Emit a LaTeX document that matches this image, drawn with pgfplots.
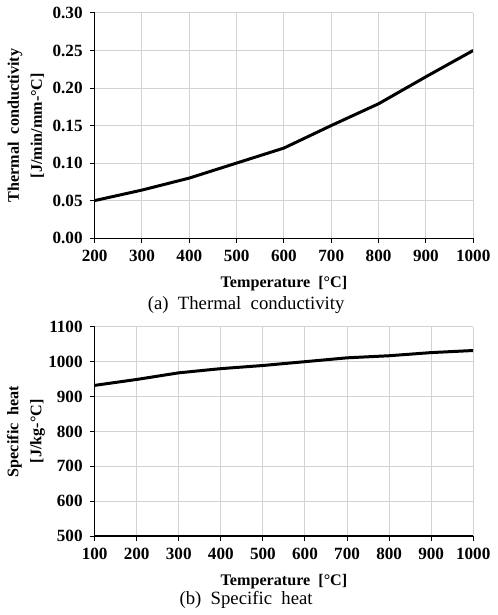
\documentclass[border=0pt]{standalone}
\usepackage{pgfplots}
\pgfplotsset{compat=1.18}
\usepackage{fontspec}
\setmainfont{Liberation Serif}

\pgfplotsset{
  excelstyle/.style={
    scale only axis,
    width=190pt,
    axis lines=left,
    axis line style={-, black, line width=0.6pt},
    tick align=outside,
    tick pos=left,
    major tick length=2.5pt,
    tick style={black, line width=0.5pt},
    grid=major,
    grid style={gray!35, line width=0.5pt},
    ticklabel style={font=\bfseries\fontsize{8.6}{9}\selectfont},
    label style={font=\bfseries\fontsize{8.1}{11.5}\selectfont},
    /pgf/number format/assume math mode=true,
    /pgf/number format/1000 sep={},
    xtick={100,200,...,1000},
    xlabel={Temperature\ \ [°C]},
    xlabel style={at={(axis description cs:0.5,0)}, anchor=center, yshift=-23pt},
    % label is rotated by 90, so its own y direction points to the left
    ylabel style={align=center, at={(axis description cs:0,0.5)}, anchor=center, yshift=34.5pt},
  }
}

\begin{document}
\begin{tikzpicture}
\begin{axis}[
  excelstyle,
  at={(0pt,0pt)}, anchor=south west,
  height=113pt,
  xmin=200, xmax=1000,
  ymin=0, ymax=0.30,
  ytick={0,0.05,...,0.30},
  yticklabel style={/pgf/number format/.cd, fixed, fixed zerofill, precision=2},
  ylabel={Thermal\ \ conductivity\\{}[J/min/mm-°C]},
]
\addplot[black, line width=1.5pt] coordinates {
  (200,0.050)(300,0.064)(400,0.080)(500,0.100)(600,0.120)
  (700,0.150)(800,0.179)(900,0.215)(1000,0.250)
};
\end{axis}

\node[font=\fontsize{9.4}{10}\selectfont] at (76pt,-33.5pt) {(a)\ \ Thermal\ \ conductivity};

\begin{axis}[
  excelstyle,
  at={(0pt,-149.5pt)}, anchor=south west,
  height=105pt,
  xmin=100, xmax=1000,
  ymin=500, ymax=1100,
  ytick={500,600,...,1100},
  ylabel={Specific\ \ heat\\{}[J/kg-°C]},
]
\addplot[black, line width=1.5pt] coordinates {
  (100,932)(200,949)(300,968)(400,980)(500,989)(600,1000)
  (700,1011)(800,1017)(900,1026)(1000,1032)
};
\end{axis}

\node[font=\fontsize{9.4}{10}\selectfont] at (76pt,-181.5pt) {(b)\ \ Specific\ \ heat};

\useasboundingbox (-47.5pt,-188pt) rectangle (199.5pt,119.5pt);
\end{tikzpicture}
\end{document}
